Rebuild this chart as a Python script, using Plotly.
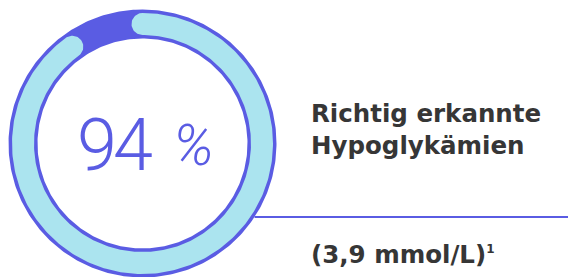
import numpy as np
import plotly.graph_objects as go

# ---- data ----
labels = ["Richtig erkannt", "Nicht erkannt"]
values = [94, 6]
center_value = "94"
center_unit = "%"
title_lines = ["Richtig erkannte", "Hypoglykämien"]
sub_label = "(3,9 mmol/L)"
sub_note = "1"

# ---- style ----
W, H = 568, 277
CX, CY = 142.5, 143.5          # ring centre (px)
R_OUT, R_IN = 134.0, 105.0     # blue ring
R_C, HALF = 119.5, 11.0        # cyan arc centre-line radius / half width
GAP_PAD_DEG = 3.8
BLUE = "#5a5ce3"
CYAN = "#abe4ef"
TEXT = "#363636"
LINE_Y = 217
TXT_FONT = dict(family="DejaVu Sans", size=24.5, color=TEXT, weight="bold")


def pt(r, phi_deg):
    p = np.radians(phi_deg)
    return CX + r * np.sin(p), CY - r * np.cos(p)


fig = go.Figure()

# base ring (whole = 100 %)
phi = np.linspace(0, 360, 361)
xo, yo = pt(R_OUT, phi)
xi, yi = pt(R_IN, phi[::-1])
fig.add_trace(go.Scatter(x=np.r_[xo, xi], y=np.r_[yo, yi], fill="toself",
                         fillcolor=BLUE, line=dict(width=0), mode="lines",
                         hoverinfo="skip", name="total"))

# cyan arc with rounded caps (share of values[0])
share = values[0] / sum(values)
cap_deg = np.degrees(HALF / R_C)
phi0 = 0.0
phi1 = 360 * share - 2 * cap_deg - GAP_PAD_DEG
arc = np.linspace(phi0, phi1, 300)
ox, oy = pt(R_C + HALF, arc)
ix, iy = pt(R_C - HALF, arc[::-1])


def cap(phic, forward):
    p = np.radians(phic)
    cx, cy = pt(R_C, phic)
    u = np.array([np.sin(p), -np.cos(p)])
    t = np.array([np.cos(p), np.sin(p)])
    if forward:
        a = np.linspace(0, np.pi, 40)
        d = np.outer(np.cos(a), u) + np.outer(np.sin(a), t)
    else:
        a = np.linspace(np.pi, 0, 40)
        d = np.outer(np.cos(a), u) - np.outer(np.sin(a), t)
    return cx + HALF * d[:, 0], cy + HALF * d[:, 1]


ex, ey = cap(phi1, True)
sx, sy = cap(phi0, False)
fig.add_trace(go.Scatter(x=np.r_[ox, ex, ix, sx], y=np.r_[oy, ey, iy, sy],
                         fill="toself", fillcolor=CYAN, line=dict(width=0),
                         mode="lines", hoverinfo="skip", name=labels[0]))

# connector line
x_start = CX + np.sqrt(R_OUT ** 2 - (LINE_Y - CY) ** 2)
fig.add_trace(go.Scatter(x=[x_start, W], y=[LINE_Y, LINE_Y], mode="lines",
                         line=dict(color=BLUE, width=2), hoverinfo="skip"))

ann = [
    dict(x=114, y=145,
         text="<span style='letter-spacing:-4px'>" + center_value + "</span>",
         showarrow=False, xanchor="center", yanchor="middle",
         font=dict(family="Roboto", size=72, color=BLUE, weight=300)),
    dict(x=193, y=145, text=center_unit, showarrow=False, xanchor="center",
         yanchor="middle",
         font=dict(family="Roboto", size=57, color=BLUE, weight=300,
                   style="italic")),
    dict(x=309, y=129, text="<br>".join(title_lines), showarrow=False,
         xanchor="left", yanchor="middle", align="left", font=TXT_FONT),
    dict(x=309, y=254,
         text=sub_label + "<sup><span style='font-size:12px'>" + sub_note +
         "</span></sup>",
         showarrow=False, xanchor="left", yanchor="middle", font=TXT_FONT),
]
for a in ann:
    a.update(xref="x", yref="y")

fig.update_layout(
    width=W, height=H, margin=dict(l=0, r=0, t=0, b=0),
    paper_bgcolor="white", plot_bgcolor="white", showlegend=False,
    xaxis=dict(range=[0, W], visible=False, fixedrange=True),
    yaxis=dict(range=[H, 0], visible=False, fixedrange=True),
    annotations=ann,
)
fig.write_html("out.html", config={"displayModeBar": False},
               post_script="document.body.style.margin='0';document.body.style.overflow='hidden';")
